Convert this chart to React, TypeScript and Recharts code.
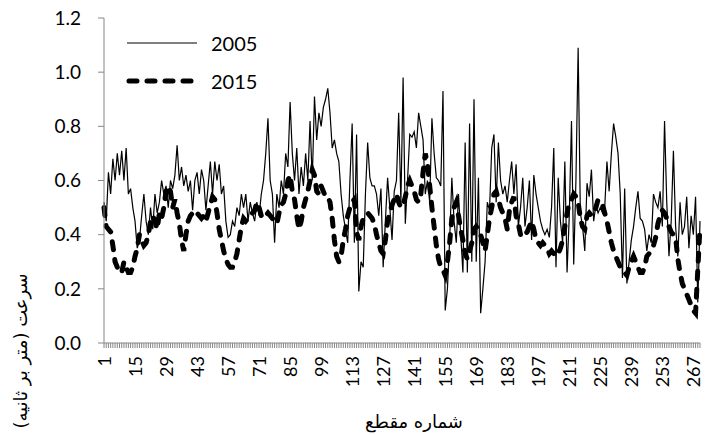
import React from "react";
import { LineChart, Line, XAxis, YAxis, Legend, Label } from "recharts";

// segment numbers (category axis)
const segments = Array.from({ length: 270 }, (_, i) => i + 1);

// speed (m/s) in 2005
const speed2005 = [
  0.52, 0.45, 0.63, 0.55, 0.68, 0.6, 0.7, 0.62, 0.71, 0.6,
  0.72, 0.55, 0.57, 0.5, 0.45, 0.35, 0.38, 0.47, 0.55, 0.45,
  0.4, 0.5, 0.42, 0.55, 0.48, 0.52, 0.6, 0.55, 0.58, 0.5,
  0.6, 0.57, 0.62, 0.73, 0.6, 0.65, 0.58, 0.62, 0.56, 0.6,
  0.49, 0.6, 0.63, 0.55, 0.64, 0.6, 0.49, 0.58, 0.67, 0.55,
  0.67, 0.6, 0.66, 0.55, 0.58, 0.45, 0.39, 0.4, 0.45, 0.43,
  0.5, 0.47, 0.55, 0.5, 0.55, 0.45, 0.52, 0.48, 0.45, 0.52,
  0.47, 0.55, 0.6, 0.7, 0.83, 0.6, 0.55, 0.37, 0.55, 0.5,
  0.6, 0.55, 0.7, 0.65, 0.89, 0.7, 0.6, 0.72, 0.55, 0.65,
  0.58, 0.7, 0.6, 0.82, 0.6, 0.91, 0.75, 0.85, 0.8, 0.87,
  0.9, 0.94, 0.85, 0.72, 0.75, 0.7, 0.67, 0.55, 0.47, 0.42,
  0.37, 0.6, 0.81, 0.37, 0.77, 0.19, 0.3, 0.28, 0.55, 0.74,
  0.61, 0.58, 0.58, 0.55, 0.47, 0.57, 0.28, 0.45, 0.61, 0.5,
  0.38, 0.56, 0.6, 0.85, 0.52, 0.98, 0.44, 0.6, 0.77, 0.76,
  0.78, 0.72, 0.85, 0.8, 0.75, 0.55, 0.6, 0.52, 0.83, 0.7,
  0.61, 0.6, 0.58, 0.93, 0.12, 0.2, 0.38, 0.61, 0.45, 0.37,
  0.55, 0.4, 0.26, 0.74, 0.26, 0.81, 0.3, 0.9, 0.3, 0.61,
  0.11, 0.2, 0.3, 0.52, 0.49, 0.72, 0.77, 0.52, 0.74, 0.6,
  0.55, 0.58, 0.52, 0.6, 0.67, 0.55, 0.66, 0.43, 0.5, 0.61,
  0.43, 0.5, 0.6, 0.38, 0.62, 0.55, 0.5, 0.45, 0.42, 0.4,
  0.42, 0.39, 0.5, 0.72, 0.28, 0.61, 0.45, 0.37, 0.67, 0.26,
  0.47, 0.82, 0.29, 0.6, 1.09, 0.48, 0.43, 0.34, 0.59, 0.54,
  0.64, 0.45, 0.51, 0.48, 0.5, 0.48, 0.5, 0.67, 0.56, 0.7,
  0.81, 0.76, 0.7, 0.55, 0.24, 0.57, 0.22, 0.3, 0.38, 0.43,
  0.5, 0.56, 0.46, 0.45, 0.42, 0.34, 0.4, 0.37, 0.55, 0.52,
  0.5, 0.56, 0.43, 0.82, 0.52, 0.32, 0.45, 0.71, 0.43, 0.32,
  0.52, 0.4, 0.43, 0.54, 0.35, 0.47, 0.4, 0.54, 0.15, 0.45,
];

// speed (m/s) in 2015
const speed2015 = [
  0.5, 0.43, 0.42, 0.41, 0.36, 0.3, 0.28, 0.26, 0.26, 0.3,
  0.28, 0.26, 0.26, 0.28, 0.32, 0.35, 0.4, 0.38, 0.36, 0.37,
  0.4, 0.45, 0.47, 0.45, 0.42, 0.48, 0.46, 0.5, 0.56, 0.58,
  0.56, 0.5, 0.53, 0.48, 0.44, 0.38, 0.34, 0.4, 0.45, 0.47,
  0.48, 0.47, 0.48, 0.47, 0.46, 0.47, 0.45, 0.48, 0.51, 0.54,
  0.53, 0.48, 0.42, 0.38, 0.34, 0.31, 0.29, 0.28, 0.28, 0.3,
  0.33, 0.38, 0.43, 0.46, 0.45, 0.46, 0.47, 0.48, 0.49, 0.52,
  0.5, 0.47, 0.46, 0.47, 0.48, 0.47, 0.46, 0.45, 0.44, 0.48,
  0.51, 0.52, 0.55, 0.6, 0.62, 0.56, 0.53, 0.47, 0.42, 0.45,
  0.5, 0.53, 0.56, 0.6, 0.64, 0.62, 0.56, 0.55, 0.58, 0.56,
  0.54, 0.54, 0.52, 0.46, 0.38, 0.32, 0.3, 0.32, 0.38, 0.42,
  0.47, 0.5, 0.52, 0.53, 0.41, 0.38, 0.43, 0.46, 0.47, 0.48,
  0.47, 0.46, 0.44, 0.4, 0.37, 0.34, 0.33, 0.38, 0.45, 0.48,
  0.51, 0.53, 0.55, 0.52, 0.5, 0.51, 0.54, 0.58, 0.6, 0.58,
  0.56, 0.53, 0.52, 0.55, 0.63, 0.7, 0.66, 0.58, 0.5, 0.43,
  0.36, 0.31, 0.28, 0.27, 0.25, 0.3, 0.37, 0.46, 0.5, 0.52,
  0.47, 0.42, 0.38, 0.33, 0.31, 0.34, 0.37, 0.42, 0.43, 0.42,
  0.4, 0.37, 0.34, 0.4, 0.46, 0.5, 0.55, 0.56, 0.53, 0.5,
  0.48, 0.46, 0.42, 0.49, 0.52, 0.54, 0.47, 0.44, 0.4, 0.39,
  0.4, 0.41, 0.43, 0.45, 0.42, 0.38, 0.37, 0.36, 0.37, 0.36,
  0.35, 0.33, 0.34, 0.33, 0.32, 0.33, 0.35, 0.38, 0.43, 0.48,
  0.52, 0.53, 0.55, 0.54, 0.52, 0.46, 0.43, 0.42, 0.47, 0.48,
  0.47, 0.48, 0.5, 0.53, 0.52, 0.51, 0.48, 0.45, 0.41, 0.37,
  0.34, 0.32, 0.3, 0.28, 0.27, 0.26, 0.25, 0.28, 0.3, 0.32,
  0.3, 0.28, 0.26, 0.26, 0.28, 0.32, 0.33, 0.34, 0.36, 0.39,
  0.44, 0.47, 0.49, 0.48, 0.46, 0.43, 0.41, 0.4, 0.39, 0.31,
  0.26, 0.22, 0.2, 0.18, 0.16, 0.14, 0.12, 0.11, 0.27, 0.43,
];

const yTicks = [0, 0.2, 0.4, 0.6, 0.8, 1.0, 1.2];
const labelEvery = 14;

const data = segments.map((seg, i) => ({
  seg,
  y2005: speed2005[i],
  y2015: speed2015[i],
}));

const axisGrey = "#868686";
const font = "Lato, 'Open Sans', sans-serif";
const faFont = "'DejaVu Sans', sans-serif";

const SegmentTick = (props: any) => {
  const { x, y, payload, index } = props;
  if (index % labelEvery !== 0) return null;
  return (
    <text
      x={x}
      y={y}
      transform={`rotate(-90, ${x}, ${y})`}
      textAnchor="end"
      dominantBaseline="central"
      fontSize={18}
      fontFamily={font}
      fill="#000"
    >
      {payload.value}
    </text>
  );
};

// axis titles, placed like the original Excel layout
const XTitle = (props: any) => {
  const { viewBox } = props;
  const cx = viewBox.x + viewBox.width / 2 + 12;
  return (
    <text x={cx} y={421} textAnchor="middle" dominantBaseline="central" direction="rtl"
      fontSize={18} fontFamily={faFont} fill="#000">
      شماره مقطع
    </text>
  );
};

const YTitle = () => (
  <text x={20} y={351} transform="rotate(-90, 20, 351)" textAnchor="middle" dominantBaseline="central"
    direction="rtl" fontSize={18} fontFamily={faFont} fill="#000">
    سرعت (متر بر ثانیه)
  </text>
);

const LegendBox = () => (
  <div style={{ fontFamily: font, fontSize: 20, color: "#000" }}>
    <div style={{ display: "flex", alignItems: "center", height: 38 }}>
      <svg width={76} height={10}>
        <line x1={2} y1={5} x2={72} y2={5} stroke="#000" strokeWidth={1.2} />
      </svg>
      <span style={{ marginLeft: 10 }}>2005</span>
    </div>
    <div style={{ display: "flex", alignItems: "center", height: 38 }}>
      <svg width={76} height={10}>
        <line
          x1={4}
          y1={5}
          x2={72}
          y2={5}
          stroke="#000"
          strokeWidth={5}
          strokeDasharray="8 10"
          strokeLinecap="round"
        />
      </svg>
      <span style={{ marginLeft: 10 }}>2015</span>
    </div>
  </div>
);

export default function App() {
  return (
    <div style={{ position: "absolute", left: 0, top: 0, width: 705, height: 435, background: "#fff" }}>
      <LineChart width={705} height={435} data={data} margin={{ top: 18, right: 5, bottom: 0, left: 0 }}>
        <XAxis
          dataKey="seg"
          interval={0}
          height={92}
          tick={<SegmentTick />}
          tickSize={5}
          tickMargin={8}
          tickLine={{ stroke: axisGrey }}
          axisLine={{ stroke: axisGrey }}
        >
          <Label content={<XTitle />} />
        </XAxis>
        <XAxis xAxisId="top" orientation="top" dataKey="seg" height={0} tick={false} tickLine={false} axisLine={{ stroke: "#404040" }} />
        <YAxis
          domain={[0, 1.2]}
          ticks={yTicks}
          width={104}
          tickFormatter={(v: number) => v.toFixed(1)}
          tick={{ fontSize: 19, fontFamily: font, fill: "#000" }}
          tickSize={6}
          tickMargin={17}
          tickLine={{ stroke: axisGrey }}
          axisLine={{ stroke: axisGrey }}
        >
          <Label content={<YTitle />} />
        </YAxis>
        <YAxis yAxisId="right" orientation="right" width={0} tick={false} tickLine={false} axisLine={{ stroke: "#404040" }} />
        <Legend
          layout="vertical"
          align="center"
          verticalAlign="middle"
          content={<LegendBox />}
          wrapperStyle={{ position: "absolute", left: 125, top: 24, width: 160 }}
        />
        <Line
          dataKey="y2005"
          name="2005"
          stroke="#000"
          strokeWidth={1.2}
          dot={false}
          isAnimationActive={false}
        />
        <Line
          dataKey="y2015"
          name="2015"
          stroke="#000"
          strokeWidth={5}
          strokeDasharray="8 10"
          strokeLinecap="round"
          dot={false}
          isAnimationActive={false}
        />
      </LineChart>
    </div>
  );
}
